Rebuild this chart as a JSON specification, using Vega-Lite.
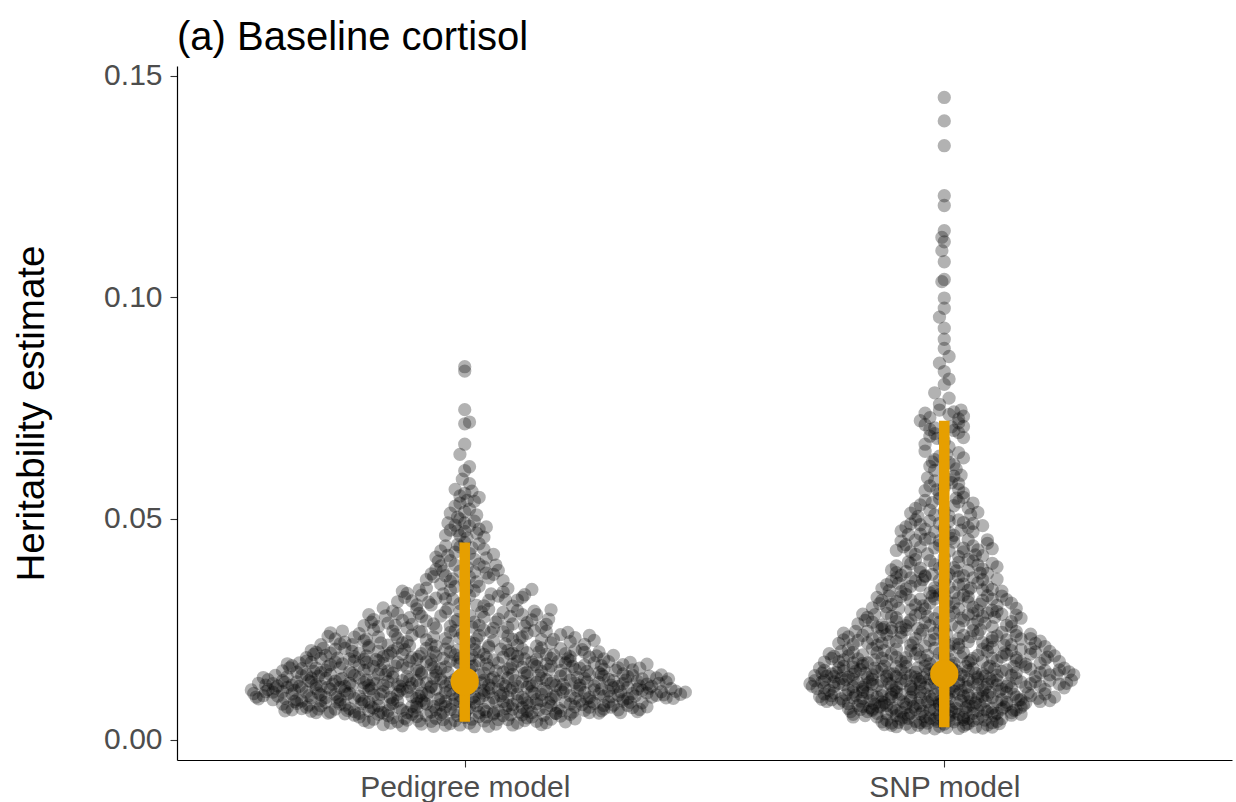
{
"$schema":"https://vega.github.io/schema/vega-lite/v6.json",
"width":1055,"height":694,
"autosize":{"type":"none"},
"padding":{"left":177,"top":66,"right":4,"bottom":42},
"background":"white",
"title":{"text":"(a) Baseline cortisol","anchor":"start","frame":"group","font":"Liberation Sans","fontSize":40,"fontWeight":"normal","color":"black","baseline":"alphabetic","offset":12,"dy":41},
"datasets":{
"pts":[
{"x":0.78,"y":0.0052},{"x":0.81,"y":0.0047},{"x":0.84,"y":0.0055},{"x":0.86,"y":0.0041},{"x":0.89,"y":0.0058},{"x":0.91,"y":0.0036},{"x":0.94,"y":0.0049},{"x":0.96,"y":0.0033},{"x":0.98,"y":0.0044},{"x":1.01,"y":0.0038},{"x":1.03,"y":0.0053},{"x":1.05,"y":0.0031},{"x":1.07,"y":0.0046},{"x":1.10,"y":0.0034},{"x":1.12,"y":0.0057},{"x":1.15,"y":0.0042},{"x":1.17,"y":0.0039},{"x":1.20,"y":0.0054},{"x":1.23,"y":0.0048},{"x":0.75,"y":0.0059},{"x":0.92,"y":0.0056},{"x":1.06,"y":0.0058},{"x":1.13,"y":0.0050},{"x":0.88,"y":0.0045},{"x":1.19,"y":0.0060},
{"x":0.62,"y":0.0081},{"x":0.64,"y":0.0068},{"x":0.66,"y":0.0088},{"x":0.67,"y":0.0074},{"x":0.69,"y":0.0062},{"x":0.71,"y":0.0085},{"x":0.73,"y":0.0070},{"x":0.75,"y":0.0079},{"x":0.77,"y":0.0064},{"x":0.79,"y":0.0087},{"x":0.81,"y":0.0072},{"x":0.83,"y":0.0061},{"x":0.85,"y":0.0083},{"x":0.87,"y":0.0067},{"x":0.89,"y":0.0076},{"x":0.91,"y":0.0089},{"x":0.93,"y":0.0063},{"x":0.95,"y":0.0080},{"x":0.97,"y":0.0069},{"x":0.99,"y":0.0086},{"x":1.01,"y":0.0073},{"x":1.03,"y":0.0062},{"x":1.05,"y":0.0084},{"x":1.07,"y":0.0066},{"x":1.09,"y":0.0078},{"x":1.11,"y":0.0088},{"x":1.13,"y":0.0065},{"x":1.15,"y":0.0082},{"x":1.17,"y":0.0071},{"x":1.19,"y":0.0060},{"x":1.21,"y":0.0086},{"x":1.23,"y":0.0075},{"x":1.25,"y":0.0067},{"x":1.27,"y":0.0083},{"x":1.29,"y":0.0070},{"x":1.31,"y":0.0079},{"x":1.33,"y":0.0088},{"x":1.35,"y":0.0073},{"x":1.37,"y":0.0084},{"x":0.70,"y":0.0077},{"x":0.80,"y":0.0066},{"x":0.90,"y":0.0082},{"x":1.00,"y":0.0061},{"x":1.10,"y":0.0070},{"x":1.26,"y":0.0062},
{"x":0.56,"y":0.0105},{"x":0.57,"y":0.0093},{"x":0.59,"y":0.0114},{"x":0.61,"y":0.0099},{"x":0.63,"y":0.0119},{"x":0.65,"y":0.0091},{"x":0.67,"y":0.0108},{"x":0.69,"y":0.0116},{"x":0.71,"y":0.0096},{"x":0.73,"y":0.0103},{"x":0.75,"y":0.0111},{"x":0.77,"y":0.0094},{"x":0.79,"y":0.0118},{"x":0.81,"y":0.0101},{"x":0.83,"y":0.0109},{"x":0.85,"y":0.0092},{"x":0.87,"y":0.0115},{"x":0.89,"y":0.0098},{"x":0.91,"y":0.0106},{"x":0.93,"y":0.0119},{"x":0.95,"y":0.0095},{"x":0.97,"y":0.0112},{"x":0.99,"y":0.0100},{"x":1.01,"y":0.0117},{"x":1.03,"y":0.0093},{"x":1.05,"y":0.0108},{"x":1.07,"y":0.0114},{"x":1.09,"y":0.0097},{"x":1.11,"y":0.0104},{"x":1.13,"y":0.0119},{"x":1.15,"y":0.0091},{"x":1.17,"y":0.0110},{"x":1.19,"y":0.0101},{"x":1.21,"y":0.0116},{"x":1.23,"y":0.0094},{"x":1.25,"y":0.0107},{"x":1.27,"y":0.0113},{"x":1.29,"y":0.0099},{"x":1.31,"y":0.0118},{"x":1.33,"y":0.0092},{"x":1.35,"y":0.0105},{"x":1.37,"y":0.0112},{"x":1.39,"y":0.0097},{"x":1.41,"y":0.0109},{"x":1.43,"y":0.0116},{"x":1.45,"y":0.0103},{"x":0.60,"y":0.0108},{"x":0.74,"y":0.0119},{"x":1.04,"y":0.0101},{"x":1.34,"y":0.0119},
{"x":0.57,"y":0.0128},{"x":0.59,"y":0.0136},{"x":0.61,"y":0.0122},{"x":0.63,"y":0.0143},{"x":0.65,"y":0.0131},{"x":0.67,"y":0.0148},{"x":0.69,"y":0.0125},{"x":0.71,"y":0.0139},{"x":0.73,"y":0.0133},{"x":0.75,"y":0.0121},{"x":0.77,"y":0.0146},{"x":0.79,"y":0.0129},{"x":0.81,"y":0.0137},{"x":0.83,"y":0.0124},{"x":0.85,"y":0.0142},{"x":0.87,"y":0.0134},{"x":0.89,"y":0.0127},{"x":0.91,"y":0.0149},{"x":0.93,"y":0.0121},{"x":0.95,"y":0.0138},{"x":0.97,"y":0.0130},{"x":0.99,"y":0.0145},{"x":1.02,"y":0.0123},{"x":1.04,"y":0.0135},{"x":1.06,"y":0.0141},{"x":1.08,"y":0.0126},{"x":1.10,"y":0.0148},{"x":1.12,"y":0.0132},{"x":1.14,"y":0.0122},{"x":1.16,"y":0.0139},{"x":1.18,"y":0.0128},{"x":1.20,"y":0.0144},{"x":1.22,"y":0.0135},{"x":1.24,"y":0.0124},{"x":1.26,"y":0.0147},{"x":1.28,"y":0.0130},{"x":1.30,"y":0.0137},{"x":1.32,"y":0.0121},{"x":1.34,"y":0.0143},{"x":1.36,"y":0.0133},{"x":1.38,"y":0.0126},{"x":1.40,"y":0.0140},{"x":1.42,"y":0.0131},{"x":0.68,"y":0.0140},{"x":1.33,"y":0.0149},
{"x":0.62,"y":0.0156},{"x":0.64,"y":0.0168},{"x":0.66,"y":0.0161},{"x":0.68,"y":0.0175},{"x":0.70,"y":0.0152},{"x":0.72,"y":0.0170},{"x":0.74,"y":0.0163},{"x":0.77,"y":0.0178},{"x":0.79,"y":0.0157},{"x":0.81,"y":0.0166},{"x":0.83,"y":0.0173},{"x":0.85,"y":0.0151},{"x":0.87,"y":0.0169},{"x":0.90,"y":0.0160},{"x":0.92,"y":0.0177},{"x":0.94,"y":0.0154},{"x":0.96,"y":0.0165},{"x":0.99,"y":0.0172},{"x":1.01,"y":0.0158},{"x":1.03,"y":0.0179},{"x":1.05,"y":0.0162},{"x":1.08,"y":0.0153},{"x":1.10,"y":0.0171},{"x":1.12,"y":0.0164},{"x":1.14,"y":0.0176},{"x":1.16,"y":0.0155},{"x":1.18,"y":0.0167},{"x":1.21,"y":0.0174},{"x":1.23,"y":0.0159},{"x":1.25,"y":0.0169},{"x":1.28,"y":0.0152},{"x":1.30,"y":0.0177},{"x":1.32,"y":0.0163},{"x":1.35,"y":0.0158},{"x":1.38,"y":0.0171},
{"x":0.67,"y":0.0186},{"x":0.69,"y":0.0198},{"x":0.71,"y":0.0191},{"x":0.73,"y":0.0205},{"x":0.76,"y":0.0183},{"x":0.78,"y":0.0196},{"x":0.80,"y":0.0209},{"x":0.83,"y":0.0188},{"x":0.85,"y":0.0201},{"x":0.87,"y":0.0194},{"x":0.90,"y":0.0182},{"x":0.92,"y":0.0207},{"x":0.94,"y":0.0190},{"x":0.97,"y":0.0199},{"x":0.99,"y":0.0185},{"x":1.02,"y":0.0204},{"x":1.04,"y":0.0193},{"x":1.06,"y":0.0181},{"x":1.09,"y":0.0202},{"x":1.11,"y":0.0189},{"x":1.13,"y":0.0197},{"x":1.16,"y":0.0208},{"x":1.18,"y":0.0184},{"x":1.21,"y":0.0195},{"x":1.23,"y":0.0203},{"x":1.26,"y":0.0187},{"x":1.28,"y":0.0199},{"x":1.31,"y":0.0191},
{"x":0.70,"y":0.0215},{"x":0.73,"y":0.0228},{"x":0.75,"y":0.0221},{"x":0.78,"y":0.0240},{"x":0.80,"y":0.0213},{"x":0.82,"y":0.0233},{"x":0.85,"y":0.0246},{"x":0.87,"y":0.0219},{"x":0.89,"y":0.0237},{"x":0.92,"y":0.0226},{"x":0.94,"y":0.0212},{"x":0.97,"y":0.0243},{"x":0.99,"y":0.0230},{"x":1.02,"y":0.0218},{"x":1.04,"y":0.0248},{"x":1.06,"y":0.0224},{"x":1.09,"y":0.0235},{"x":1.11,"y":0.0214},{"x":1.13,"y":0.0241},{"x":1.16,"y":0.0227},{"x":1.18,"y":0.0219},{"x":1.20,"y":0.0238},{"x":1.23,"y":0.0231},{"x":1.25,"y":0.0216},{"x":1.27,"y":0.0225},
{"x":0.79,"y":0.0258},{"x":0.81,"y":0.0272},{"x":0.84,"y":0.0264},{"x":0.86,"y":0.0285},{"x":0.88,"y":0.0253},{"x":0.90,"y":0.0296},{"x":0.92,"y":0.0269},{"x":0.95,"y":0.0280},{"x":0.97,"y":0.0257},{"x":0.99,"y":0.0291},{"x":1.02,"y":0.0266},{"x":1.04,"y":0.0277},{"x":1.06,"y":0.0252},{"x":1.08,"y":0.0288},{"x":1.10,"y":0.0262},{"x":1.12,"y":0.0283},{"x":1.14,"y":0.0271},{"x":1.16,"y":0.0255},{"x":1.18,"y":0.0294},{"x":0.83,"y":0.0298},
{"x":0.86,"y":0.0312},{"x":0.88,"y":0.0331},{"x":0.90,"y":0.0305},{"x":0.92,"y":0.0343},{"x":0.94,"y":0.0320},{"x":0.97,"y":0.0338},{"x":0.99,"y":0.0308},{"x":1.01,"y":0.0326},{"x":1.03,"y":0.0347},{"x":1.05,"y":0.0315},{"x":1.08,"y":0.0334},{"x":1.10,"y":0.0302},{"x":1.12,"y":0.0322},{"x":1.14,"y":0.0340},
{"x":0.92,"y":0.0362},{"x":0.94,"y":0.0385},{"x":0.96,"y":0.0371},{"x":0.98,"y":0.0395},{"x":1.00,"y":0.0356},{"x":1.02,"y":0.0379},{"x":1.04,"y":0.0391},{"x":1.05,"y":0.0366},{"x":1.07,"y":0.0383},{"x":0.95,"y":0.0352},
{"x":0.94,"y":0.0413},{"x":0.96,"y":0.0438},{"x":0.98,"y":0.0424},{"x":1.00,"y":0.0446},{"x":1.02,"y":0.0408},{"x":1.04,"y":0.0431},{"x":1.06,"y":0.0419},
{"x":0.96,"y":0.0462},{"x":0.98,"y":0.0485},{"x":1.00,"y":0.0471},{"x":1.02,"y":0.0494},{"x":1.04,"y":0.0458},{"x":0.99,"y":0.0499},
{"x":0.97,"y":0.0512},{"x":0.99,"y":0.0535},{"x":1.01,"y":0.0521},{"x":1.03,"y":0.0548},{"x":0.98,"y":0.0566},{"x":1.01,"y":0.0579},{"x":1.00,"y":0.0557},
{"x":1.00,"y":0.0608},{"x":1.01,"y":0.0617},{"x":0.99,"y":0.0645},{"x":1.00,"y":0.0668},{"x":1.00,"y":0.0714},{"x":1.01,"y":0.0718},{"x":1.00,"y":0.0746},{"x":1.00,"y":0.0833},{"x":1.00,"y":0.0843},
{"x":0.80,"y":0.0040},{"x":0.83,"y":0.0035},{"x":0.85,"y":0.0050},{"x":0.87,"y":0.0032},{"x":0.90,"y":0.0053},{"x":0.93,"y":0.0042},{"x":0.95,"y":0.0058},{"x":0.97,"y":0.0037},{"x":1.00,"y":0.0051},{"x":1.02,"y":0.0030},{"x":1.04,"y":0.0043},{"x":1.08,"y":0.0055},{"x":1.11,"y":0.0038},{"x":1.14,"y":0.0052},{"x":1.16,"y":0.0035},{"x":1.18,"y":0.0047},{"x":1.21,"y":0.0041},{"x":0.77,"y":0.0056},{"x":0.99,"y":0.0034},{"x":1.09,"y":0.0046},
{"x":0.63,"y":0.0074},{"x":0.65,"y":0.0083},{"x":0.68,"y":0.0065},{"x":0.70,"y":0.0089},{"x":0.72,"y":0.0063},{"x":0.74,"y":0.0081},{"x":0.76,"y":0.0071},{"x":0.78,"y":0.0060},{"x":0.80,"y":0.0085},{"x":0.82,"y":0.0077},{"x":0.84,"y":0.0066},{"x":0.86,"y":0.0088},{"x":0.88,"y":0.0062},{"x":0.90,"y":0.0074},{"x":0.92,"y":0.0081},{"x":0.94,"y":0.0068},{"x":0.96,"y":0.0087},{"x":0.98,"y":0.0064},{"x":1.00,"y":0.0079},{"x":1.02,"y":0.0085},{"x":1.04,"y":0.0069},{"x":1.06,"y":0.0061},{"x":1.08,"y":0.0087},{"x":1.10,"y":0.0080},{"x":1.12,"y":0.0073},{"x":1.14,"y":0.0062},{"x":1.16,"y":0.0089},{"x":1.18,"y":0.0077},{"x":1.20,"y":0.0066},{"x":1.22,"y":0.0081},{"x":1.24,"y":0.0088},{"x":1.26,"y":0.0074},{"x":1.28,"y":0.0061},{"x":1.30,"y":0.0086},{"x":1.32,"y":0.0068},{"x":1.34,"y":0.0078},{"x":1.36,"y":0.0064},{"x":1.38,"y":0.0075},{"x":0.66,"y":0.0071},{"x":0.96,"y":0.0075},{"x":1.13,"y":0.0084},{"x":1.29,"y":0.0078},
{"x":0.555,"y":0.0113},{"x":0.58,"y":0.0100},{"x":0.60,"y":0.0091},{"x":0.62,"y":0.0109},{"x":0.64,"y":0.0104},{"x":0.66,"y":0.0117},{"x":0.68,"y":0.0095},{"x":0.70,"y":0.0102},{"x":0.72,"y":0.0114},{"x":0.74,"y":0.0091},{"x":0.76,"y":0.0106},{"x":0.78,"y":0.0099},{"x":0.80,"y":0.0112},{"x":0.82,"y":0.0093},{"x":0.84,"y":0.0118},{"x":0.86,"y":0.0103},{"x":0.88,"y":0.0110},{"x":0.90,"y":0.0094},{"x":0.92,"y":0.0101},{"x":0.94,"y":0.0115},{"x":0.96,"y":0.0107},{"x":0.98,"y":0.0092},{"x":1.00,"y":0.0110},{"x":1.02,"y":0.0098},{"x":1.04,"y":0.0112},{"x":1.06,"y":0.0095},{"x":1.08,"y":0.0105},{"x":1.10,"y":0.0118},{"x":1.12,"y":0.0096},{"x":1.14,"y":0.0109},{"x":1.16,"y":0.0103},{"x":1.18,"y":0.0093},{"x":1.20,"y":0.0114},{"x":1.22,"y":0.0100},{"x":1.24,"y":0.0117},{"x":1.26,"y":0.0096},{"x":1.28,"y":0.0104},{"x":1.30,"y":0.0111},{"x":1.32,"y":0.0101},{"x":1.34,"y":0.0094},{"x":1.36,"y":0.0115},{"x":1.38,"y":0.0106},{"x":1.40,"y":0.0101},{"x":1.42,"y":0.0095},{"x":1.44,"y":0.0110},{"x":1.46,"y":0.0108},
{"x":0.58,"y":0.0141},{"x":0.60,"y":0.0127},{"x":0.62,"y":0.0134},{"x":0.64,"y":0.0124},{"x":0.66,"y":0.0145},{"x":0.68,"y":0.0131},{"x":0.70,"y":0.0122},{"x":0.72,"y":0.0148},{"x":0.74,"y":0.0136},{"x":0.76,"y":0.0128},{"x":0.78,"y":0.0140},{"x":0.80,"y":0.0123},{"x":0.82,"y":0.0149},{"x":0.84,"y":0.0132},{"x":0.86,"y":0.0125},{"x":0.88,"y":0.0143},{"x":0.90,"y":0.0134},{"x":0.92,"y":0.0129},{"x":0.94,"y":0.0146},{"x":0.96,"y":0.0122},{"x":0.98,"y":0.0137},{"x":1.00,"y":0.0128},{"x":1.03,"y":0.0147},{"x":1.05,"y":0.0124},{"x":1.07,"y":0.0133},{"x":1.09,"y":0.0140},{"x":1.11,"y":0.0121},{"x":1.13,"y":0.0145},{"x":1.15,"y":0.0130},{"x":1.17,"y":0.0136},{"x":1.19,"y":0.0123},{"x":1.21,"y":0.0148},{"x":1.23,"y":0.0129},{"x":1.25,"y":0.0139},{"x":1.27,"y":0.0122},{"x":1.29,"y":0.0144},{"x":1.31,"y":0.0134},{"x":1.33,"y":0.0127},{"x":1.35,"y":0.0146},{"x":1.37,"y":0.0138},{"x":1.39,"y":0.0121},{"x":1.41,"y":0.0147},
{"x":0.63,"y":0.0172},{"x":0.65,"y":0.0153},{"x":0.67,"y":0.0178},{"x":0.69,"y":0.0162},{"x":0.71,"y":0.0157},{"x":0.73,"y":0.0176},{"x":0.76,"y":0.0154},{"x":0.78,"y":0.0168},{"x":0.80,"y":0.0161},{"x":0.82,"y":0.0179},{"x":0.84,"y":0.0156},{"x":0.86,"y":0.0175},{"x":0.88,"y":0.0163},{"x":0.91,"y":0.0152},{"x":0.93,"y":0.0170},{"x":0.95,"y":0.0161},{"x":0.97,"y":0.0178},{"x":1.00,"y":0.0155},{"x":1.02,"y":0.0168},{"x":1.04,"y":0.0151},{"x":1.07,"y":0.0174},{"x":1.09,"y":0.0160},{"x":1.11,"y":0.0178},{"x":1.13,"y":0.0153},{"x":1.15,"y":0.0166},{"x":1.17,"y":0.0172},{"x":1.20,"y":0.0157},{"x":1.22,"y":0.0179},{"x":1.24,"y":0.0162},{"x":1.27,"y":0.0174},{"x":1.29,"y":0.0160},{"x":1.33,"y":0.0170},
{"x":0.68,"y":0.0202},{"x":0.70,"y":0.0184},{"x":0.72,"y":0.0196},{"x":0.75,"y":0.0207},{"x":0.77,"y":0.0188},{"x":0.79,"y":0.0182},{"x":0.82,"y":0.0200},{"x":0.84,"y":0.0191},{"x":0.86,"y":0.0208},{"x":0.89,"y":0.0186},{"x":0.91,"y":0.0195},{"x":0.93,"y":0.0181},{"x":0.96,"y":0.0205},{"x":0.98,"y":0.0192},{"x":1.01,"y":0.0183},{"x":1.03,"y":0.0199},{"x":1.05,"y":0.0209},{"x":1.08,"y":0.0187},{"x":1.10,"y":0.0196},{"x":1.12,"y":0.0205},{"x":1.15,"y":0.0182},{"x":1.17,"y":0.0193},{"x":1.20,"y":0.0206},{"x":1.22,"y":0.0188},{"x":1.25,"y":0.0198},{"x":1.29,"y":0.0183},
{"x":0.72,"y":0.0242},{"x":0.74,"y":0.0217},{"x":0.77,"y":0.0232},{"x":0.79,"y":0.0224},{"x":0.81,"y":0.0249},{"x":0.84,"y":0.0214},{"x":0.86,"y":0.0230},{"x":0.88,"y":0.0222},{"x":0.91,"y":0.0244},{"x":0.93,"y":0.0216},{"x":0.96,"y":0.0229},{"x":0.98,"y":0.0247},{"x":1.01,"y":0.0221},{"x":1.03,"y":0.0236},{"x":1.05,"y":0.0213},{"x":1.08,"y":0.0244},{"x":1.10,"y":0.0227},{"x":1.12,"y":0.0233},{"x":1.15,"y":0.0212},{"x":1.17,"y":0.0245},{"x":1.22,"y":0.0222},{"x":1.26,"y":0.0236},
{"x":0.80,"y":0.0283},{"x":0.82,"y":0.0256},{"x":0.85,"y":0.0291},{"x":0.87,"y":0.0270},{"x":0.89,"y":0.0261},{"x":0.91,"y":0.0279},{"x":0.94,"y":0.0253},{"x":0.96,"y":0.0289},{"x":0.98,"y":0.0268},{"x":1.01,"y":0.0281},{"x":1.03,"y":0.0259},{"x":1.05,"y":0.0295},{"x":1.07,"y":0.0273},{"x":1.09,"y":0.0254},{"x":1.11,"y":0.0292},{"x":1.13,"y":0.0265},{"x":1.15,"y":0.0283},{"x":1.17,"y":0.0261},
{"x":0.87,"y":0.0336},{"x":0.89,"y":0.0314},{"x":0.91,"y":0.0327},{"x":0.93,"y":0.0305},{"x":0.96,"y":0.0319},{"x":0.98,"y":0.0346},{"x":1.00,"y":0.0313},{"x":1.02,"y":0.0337},{"x":1.04,"y":0.0303},{"x":1.07,"y":0.0325},{"x":1.09,"y":0.0342},{"x":1.11,"y":0.0316},
{"x":0.93,"y":0.0375},{"x":0.95,"y":0.0393},{"x":0.97,"y":0.0358},{"x":0.99,"y":0.0381},{"x":1.01,"y":0.0368},{"x":1.03,"y":0.0397},{"x":1.06,"y":0.0374},{"x":1.08,"y":0.0360},
{"x":0.95,"y":0.0427},{"x":0.97,"y":0.0405},{"x":0.99,"y":0.0436},{"x":1.01,"y":0.0421},{"x":1.03,"y":0.0443},
{"x":0.97,"y":0.0474},{"x":0.99,"y":0.0462},{"x":1.01,"y":0.0483},{"x":1.03,"y":0.0476},{"x":1.00,"y":0.0490},
{"x":0.98,"y":0.0528},{"x":1.00,"y":0.0515},{"x":1.02,"y":0.0539},{"x":0.99,"y":0.0551},
{"x":0.79,"y":0.0044},{"x":0.82,"y":0.0058},{"x":0.845,"y":0.0038},{"x":0.875,"y":0.0049},{"x":0.905,"y":0.0043},{"x":0.935,"y":0.0031},{"x":0.955,"y":0.0046},{"x":0.985,"y":0.0055},{"x":1.015,"y":0.0047},{"x":1.045,"y":0.0052},{"x":1.065,"y":0.0036},{"x":1.095,"y":0.0057},{"x":1.125,"y":0.0044},{"x":1.165,"y":0.0056},{"x":1.22,"y":0.0058},
{"x":0.625,"y":0.0066},{"x":0.645,"y":0.0087},{"x":0.675,"y":0.0079},{"x":0.695,"y":0.0070},{"x":0.715,"y":0.0061},{"x":0.735,"y":0.0086},{"x":0.755,"y":0.0067},{"x":0.785,"y":0.0082},{"x":0.805,"y":0.0074},{"x":0.825,"y":0.0063},{"x":0.845,"y":0.0080},{"x":0.865,"y":0.0072},{"x":0.895,"y":0.0065},{"x":0.915,"y":0.0084},{"x":0.935,"y":0.0076},{"x":0.955,"y":0.0062},{"x":0.975,"y":0.0081},{"x":1.005,"y":0.0068},{"x":1.025,"y":0.0077},{"x":1.045,"y":0.0064},{"x":1.065,"y":0.0086},{"x":1.085,"y":0.0071},{"x":1.115,"y":0.0063},{"x":1.135,"y":0.0079},{"x":1.155,"y":0.0068},{"x":1.175,"y":0.0085},{"x":1.195,"y":0.0072},{"x":1.225,"y":0.0063},{"x":1.245,"y":0.0080},{"x":1.265,"y":0.0087},{"x":1.285,"y":0.0066},{"x":1.305,"y":0.0074},{"x":1.325,"y":0.0062},{"x":1.345,"y":0.0085},{"x":1.365,"y":0.0069},
{"x":0.565,"y":0.0097},{"x":0.585,"y":0.0109},{"x":0.605,"y":0.0117},{"x":0.625,"y":0.0094},{"x":0.645,"y":0.0112},{"x":0.675,"y":0.0100},{"x":0.695,"y":0.0106},{"x":0.715,"y":0.0119},{"x":0.735,"y":0.0097},{"x":0.755,"y":0.0104},{"x":0.785,"y":0.0091},{"x":0.805,"y":0.0116},{"x":0.825,"y":0.0103},{"x":0.845,"y":0.0096},{"x":0.865,"y":0.0111},{"x":0.885,"y":0.0119},{"x":0.905,"y":0.0099},{"x":0.925,"y":0.0108},{"x":0.945,"y":0.0092},{"x":0.975,"y":0.0103},{"x":0.995,"y":0.0114},{"x":1.015,"y":0.0094},{"x":1.035,"y":0.0106},{"x":1.055,"y":0.0117},{"x":1.075,"y":0.0100},{"x":1.095,"y":0.0112},{"x":1.125,"y":0.0091},{"x":1.145,"y":0.0105},{"x":1.165,"y":0.0116},{"x":1.185,"y":0.0098},{"x":1.205,"y":0.0108},{"x":1.235,"y":0.0111},{"x":1.255,"y":0.0093},{"x":1.285,"y":0.0115},{"x":1.305,"y":0.0098},{"x":1.325,"y":0.0109},{"x":1.355,"y":0.0099},{"x":1.385,"y":0.0117},{"x":1.415,"y":0.0102},{"x":1.435,"y":0.0094},
{"x":0.585,"y":0.0124},{"x":0.605,"y":0.0146},{"x":0.625,"y":0.0130},{"x":0.655,"y":0.0121},{"x":0.675,"y":0.0134},{"x":0.695,"y":0.0144},{"x":0.725,"y":0.0126},{"x":0.745,"y":0.0139},{"x":0.765,"y":0.0123},{"x":0.795,"y":0.0135},{"x":0.815,"y":0.0127},{"x":0.835,"y":0.0147},{"x":0.865,"y":0.0121},{"x":0.885,"y":0.0136},{"x":0.905,"y":0.0124},{"x":0.935,"y":0.0140},{"x":0.955,"y":0.0131},{"x":0.985,"y":0.0121},{"x":1.005,"y":0.0142},{"x":1.035,"y":0.0129},{"x":1.055,"y":0.0137},{"x":1.085,"y":0.0122},{"x":1.105,"y":0.0134},{"x":1.135,"y":0.0127},{"x":1.155,"y":0.0146},{"x":1.185,"y":0.0133},{"x":1.205,"y":0.0125},{"x":1.235,"y":0.0141},{"x":1.255,"y":0.0131},{"x":1.285,"y":0.0148},{"x":1.305,"y":0.0124},{"x":1.335,"y":0.0135},{"x":1.365,"y":0.0122},{"x":1.385,"y":0.0144},{"x":1.405,"y":0.0128},{"x":1.425,"y":0.0138},
{"x":0.635,"y":0.0163},{"x":0.655,"y":0.0174},{"x":0.685,"y":0.0155},{"x":0.715,"y":0.0166},{"x":0.745,"y":0.0172},{"x":0.765,"y":0.0151},{"x":0.795,"y":0.0175},{"x":0.825,"y":0.0159},{"x":0.855,"y":0.0167},{"x":0.885,"y":0.0178},{"x":0.905,"y":0.0156},{"x":0.935,"y":0.0163},{"x":0.965,"y":0.0152},{"x":0.985,"y":0.0176},{"x":1.015,"y":0.0166},{"x":1.045,"y":0.0171},{"x":1.065,"y":0.0156},{"x":1.095,"y":0.0163},{"x":1.125,"y":0.0151},{"x":1.145,"y":0.0170},{"x":1.175,"y":0.0159},{"x":1.195,"y":0.0177},{"x":1.225,"y":0.0166},{"x":1.255,"y":0.0155},{"x":1.285,"y":0.0168},{"x":1.315,"y":0.0157},{"x":1.345,"y":0.0175},{"x":1.365,"y":0.0162},
{"x":0.685,"y":0.0193},{"x":0.705,"y":0.0207},{"x":0.735,"y":0.0185},{"x":0.765,"y":0.0200},{"x":0.795,"y":0.0190},{"x":0.815,"y":0.0182},{"x":0.845,"y":0.0196},{"x":0.875,"y":0.0204},{"x":0.905,"y":0.0189},{"x":0.935,"y":0.0198},{"x":0.955,"y":0.0184},{"x":0.985,"y":0.0203},{"x":1.015,"y":0.0191},{"x":1.045,"y":0.0186},{"x":1.075,"y":0.0205},{"x":1.095,"y":0.0194},{"x":1.125,"y":0.0183},{"x":1.155,"y":0.0199},{"x":1.185,"y":0.0192},{"x":1.215,"y":0.0183},{"x":1.245,"y":0.0204},{"x":1.275,"y":0.0190},
{"x":0.715,"y":0.0234},{"x":0.745,"y":0.0246},{"x":0.765,"y":0.0215},{"x":0.795,"y":0.0228},{"x":0.825,"y":0.0219},{"x":0.855,"y":0.0238},{"x":0.885,"y":0.0213},{"x":0.905,"y":0.0246},{"x":0.935,"y":0.0233},{"x":0.965,"y":0.0219},{"x":0.995,"y":0.0240},{"x":1.025,"y":0.0228},{"x":1.055,"y":0.0243},{"x":1.085,"y":0.0217},{"x":1.115,"y":0.0230},{"x":1.145,"y":0.0247},{"x":1.185,"y":0.0227},{"x":1.215,"y":0.0243},
{"x":0.805,"y":0.0266},{"x":0.835,"y":0.0280},{"x":0.855,"y":0.0259},{"x":0.885,"y":0.0276},{"x":0.905,"y":0.0286},{"x":0.935,"y":0.0262},{"x":0.965,"y":0.0297},{"x":0.985,"y":0.0272},{"x":1.015,"y":0.0255},{"x":1.035,"y":0.0289},{"x":1.065,"y":0.0266},{"x":1.095,"y":0.0279},{"x":1.125,"y":0.0257},{"x":1.145,"y":0.0291},{"x":1.175,"y":0.0273},
{"x":0.875,"y":0.0322},{"x":0.905,"y":0.0339},{"x":0.925,"y":0.0311},{"x":0.955,"y":0.0330},{"x":0.975,"y":0.0318},{"x":1.005,"y":0.0342},{"x":1.025,"y":0.0304},{"x":1.055,"y":0.0330},{"x":1.085,"y":0.0317},{"x":1.125,"y":0.0328},
{"x":0.935,"y":0.0369},{"x":0.955,"y":0.0381},{"x":0.975,"y":0.0364},{"x":1.005,"y":0.0390},{"x":1.025,"y":0.0357},{"x":1.045,"y":0.0377},{"x":1.065,"y":0.0395},
{"x":0.945,"y":0.0404},{"x":0.965,"y":0.0417},{"x":0.985,"y":0.0441},{"x":1.015,"y":0.0434},{"x":1.045,"y":0.0411},
{"x":0.965,"y":0.0490},{"x":0.985,"y":0.0472},{"x":1.005,"y":0.0456},{"x":1.025,"y":0.0467},{"x":1.045,"y":0.0481},
{"x":0.985,"y":0.0503},{"x":1.005,"y":0.0541},{"x":1.025,"y":0.0508},{"x":0.995,"y":0.0589},{"x":1.015,"y":0.0562},
{"x":1.87,"y":0.0041},{"x":1.89,"y":0.0033},{"x":1.91,"y":0.0047},{"x":1.93,"y":0.0028},{"x":1.95,"y":0.0039},{"x":1.97,"y":0.0049},{"x":1.99,"y":0.0031},{"x":2.01,"y":0.0044},{"x":2.03,"y":0.0026},{"x":2.05,"y":0.0037},{"x":2.07,"y":0.0048},{"x":2.09,"y":0.0034},{"x":2.11,"y":0.0042},{"x":1.92,"y":0.0036},{"x":1.98,"y":0.0025},{"x":2.04,"y":0.0046},{"x":2.10,"y":0.0029},{"x":1.96,"y":0.0043},
{"x":1.80,"y":0.0071},{"x":1.81,"y":0.0058},{"x":1.83,"y":0.0076},{"x":1.84,"y":0.0064},{"x":1.86,"y":0.0052},{"x":1.87,"y":0.0079},{"x":1.89,"y":0.0067},{"x":1.90,"y":0.0055},{"x":1.92,"y":0.0073},{"x":1.93,"y":0.0061},{"x":1.95,"y":0.0078},{"x":1.96,"y":0.0053},{"x":1.98,"y":0.0069},{"x":1.99,"y":0.0057},{"x":2.01,"y":0.0075},{"x":2.02,"y":0.0063},{"x":2.04,"y":0.0051},{"x":2.05,"y":0.0077},{"x":2.07,"y":0.0066},{"x":2.08,"y":0.0054},{"x":2.10,"y":0.0072},{"x":2.11,"y":0.0060},{"x":2.13,"y":0.0079},{"x":2.14,"y":0.0056},{"x":2.15,"y":0.0068},{"x":2.16,"y":0.0074},{"x":1.85,"y":0.0070},{"x":2.00,"y":0.0080},
{"x":1.74,"y":0.0098},{"x":1.755,"y":0.0087},{"x":1.77,"y":0.0106},{"x":1.785,"y":0.0093},{"x":1.80,"y":0.0082},{"x":1.815,"y":0.0101},{"x":1.83,"y":0.0109},{"x":1.845,"y":0.0089},{"x":1.86,"y":0.0097},{"x":1.875,"y":0.0084},{"x":1.89,"y":0.0104},{"x":1.905,"y":0.0092},{"x":1.92,"y":0.0081},{"x":1.935,"y":0.0108},{"x":1.95,"y":0.0095},{"x":1.965,"y":0.0086},{"x":1.98,"y":0.0102},{"x":1.995,"y":0.0090},{"x":2.01,"y":0.0107},{"x":2.025,"y":0.0083},{"x":2.04,"y":0.0099},{"x":2.055,"y":0.0094},{"x":2.07,"y":0.0105},{"x":2.085,"y":0.0088},{"x":2.10,"y":0.0096},{"x":2.115,"y":0.0110},{"x":2.13,"y":0.0085},{"x":2.145,"y":0.0103},{"x":2.16,"y":0.0091},{"x":2.18,"y":0.0100},{"x":2.20,"y":0.0087},{"x":2.23,"y":0.0097},
{"x":1.72,"y":0.0127},{"x":1.735,"y":0.0116},{"x":1.75,"y":0.0135},{"x":1.77,"y":0.0121},{"x":1.785,"y":0.0139},{"x":1.80,"y":0.0113},{"x":1.82,"y":0.0130},{"x":1.835,"y":0.0124},{"x":1.85,"y":0.0137},{"x":1.87,"y":0.0111},{"x":1.885,"y":0.0128},{"x":1.90,"y":0.0119},{"x":1.92,"y":0.0134},{"x":1.935,"y":0.0114},{"x":1.95,"y":0.0126},{"x":1.97,"y":0.0138},{"x":1.985,"y":0.0117},{"x":2.00,"y":0.0131},{"x":2.02,"y":0.0122},{"x":2.035,"y":0.0112},{"x":2.05,"y":0.0136},{"x":2.07,"y":0.0125},{"x":2.085,"y":0.0118},{"x":2.10,"y":0.0133},{"x":2.12,"y":0.0115},{"x":2.135,"y":0.0129},{"x":2.15,"y":0.0139},{"x":2.17,"y":0.0120},{"x":2.19,"y":0.0132},{"x":2.21,"y":0.0114},{"x":2.24,"y":0.0126},{"x":2.265,"y":0.0135},
{"x":1.73,"y":0.0145},{"x":1.75,"y":0.0157},{"x":1.765,"y":0.0149},{"x":1.78,"y":0.0163},{"x":1.80,"y":0.0142},{"x":1.815,"y":0.0155},{"x":1.83,"y":0.0168},{"x":1.85,"y":0.0147},{"x":1.87,"y":0.0160},{"x":1.885,"y":0.0151},{"x":1.90,"y":0.0143},{"x":1.92,"y":0.0166},{"x":1.94,"y":0.0153},{"x":1.955,"y":0.0141},{"x":1.97,"y":0.0159},{"x":1.99,"y":0.0148},{"x":2.01,"y":0.0164},{"x":2.025,"y":0.0156},{"x":2.04,"y":0.0144},{"x":2.06,"y":0.0161},{"x":2.08,"y":0.0150},{"x":2.095,"y":0.0167},{"x":2.11,"y":0.0146},{"x":2.13,"y":0.0158},{"x":2.15,"y":0.0152},{"x":2.17,"y":0.0165},{"x":2.19,"y":0.0143},{"x":2.21,"y":0.0157},{"x":2.235,"y":0.0149},{"x":2.26,"y":0.0154},
{"x":1.75,"y":0.0176},{"x":1.77,"y":0.0189},{"x":1.79,"y":0.0181},{"x":1.81,"y":0.0198},{"x":1.83,"y":0.0173},{"x":1.85,"y":0.0206},{"x":1.87,"y":0.0185},{"x":1.89,"y":0.0194},{"x":1.91,"y":0.0178},{"x":1.93,"y":0.0202},{"x":1.95,"y":0.0187},{"x":1.97,"y":0.0172},{"x":1.99,"y":0.0196},{"x":2.01,"y":0.0183},{"x":2.03,"y":0.0208},{"x":2.05,"y":0.0175},{"x":2.07,"y":0.0191},{"x":2.09,"y":0.0200},{"x":2.11,"y":0.0179},{"x":2.13,"y":0.0193},{"x":2.15,"y":0.0186},{"x":2.17,"y":0.0171},{"x":2.19,"y":0.0199},{"x":2.21,"y":0.0182},{"x":2.23,"y":0.0190},{"x":2.24,"y":0.0177},{"x":1.80,"y":0.0205},{"x":2.16,"y":0.0204},
{"x":1.78,"y":0.0218},{"x":1.80,"y":0.0233},{"x":1.82,"y":0.0225},{"x":1.84,"y":0.0246},{"x":1.86,"y":0.0214},{"x":1.88,"y":0.0238},{"x":1.90,"y":0.0222},{"x":1.92,"y":0.0249},{"x":1.94,"y":0.0229},{"x":1.96,"y":0.0212},{"x":1.98,"y":0.0241},{"x":2.00,"y":0.0226},{"x":2.02,"y":0.0217},{"x":2.04,"y":0.0236},{"x":2.06,"y":0.0247},{"x":2.08,"y":0.0220},{"x":2.10,"y":0.0231},{"x":2.12,"y":0.0243},{"x":2.14,"y":0.0215},{"x":2.16,"y":0.0228},{"x":2.18,"y":0.0239},{"x":2.20,"y":0.0223},{"x":2.21,"y":0.0211},{"x":1.87,"y":0.0250},
{"x":1.82,"y":0.0262},{"x":1.84,"y":0.0277},{"x":1.86,"y":0.0255},{"x":1.88,"y":0.0286},{"x":1.90,"y":0.0268},{"x":1.92,"y":0.0258},{"x":1.94,"y":0.0282},{"x":1.96,"y":0.0265},{"x":1.98,"y":0.0274},{"x":2.00,"y":0.0252},{"x":2.02,"y":0.0288},{"x":2.04,"y":0.0270},{"x":2.06,"y":0.0261},{"x":2.08,"y":0.0279},{"x":2.10,"y":0.0256},{"x":2.12,"y":0.0284},{"x":2.14,"y":0.0267},{"x":2.16,"y":0.0275},{"x":1.89,"y":0.0253},{"x":2.11,"y":0.0290},
{"x":1.85,"y":0.0298},{"x":1.87,"y":0.0315},{"x":1.89,"y":0.0306},{"x":1.91,"y":0.0324},{"x":1.93,"y":0.0294},{"x":1.95,"y":0.0318},{"x":1.97,"y":0.0309},{"x":1.99,"y":0.0328},{"x":2.01,"y":0.0301},{"x":2.03,"y":0.0320},{"x":2.05,"y":0.0312},{"x":2.07,"y":0.0292},{"x":2.09,"y":0.0326},{"x":2.11,"y":0.0304},{"x":2.13,"y":0.0317},{"x":2.15,"y":0.0297},{"x":2.00,"y":0.0330},
{"x":1.87,"y":0.0342},{"x":1.89,"y":0.0358},{"x":1.91,"y":0.0335},{"x":1.93,"y":0.0366},{"x":1.95,"y":0.0349},{"x":1.97,"y":0.0332},{"x":1.99,"y":0.0361},{"x":2.01,"y":0.0345},{"x":2.03,"y":0.0368},{"x":2.05,"y":0.0338},{"x":2.07,"y":0.0355},{"x":2.09,"y":0.0347},{"x":2.11,"y":0.0363},{"x":2.12,"y":0.0336},
{"x":1.89,"y":0.0384},{"x":1.91,"y":0.0372},{"x":1.93,"y":0.0398},{"x":1.95,"y":0.0379},{"x":1.97,"y":0.0405},{"x":1.99,"y":0.0388},{"x":2.01,"y":0.0374},{"x":2.03,"y":0.0401},{"x":2.05,"y":0.0383},{"x":2.07,"y":0.0395},{"x":2.09,"y":0.0376},{"x":2.11,"y":0.0391},
{"x":1.90,"y":0.0428},{"x":1.92,"y":0.0441},{"x":1.94,"y":0.0419},{"x":1.96,"y":0.0453},{"x":1.98,"y":0.0434},{"x":2.00,"y":0.0412},{"x":2.02,"y":0.0447},{"x":2.04,"y":0.0425},{"x":2.06,"y":0.0438},{"x":2.08,"y":0.0416},{"x":2.10,"y":0.0432},{"x":1.97,"y":0.0456},
{"x":1.91,"y":0.0472},{"x":1.93,"y":0.0488},{"x":1.95,"y":0.0465},{"x":1.97,"y":0.0495},{"x":2.00,"y":0.0478},{"x":2.02,"y":0.0462},{"x":2.04,"y":0.0491},{"x":2.06,"y":0.0470},{"x":2.08,"y":0.0484},
{"x":1.93,"y":0.0512},{"x":1.95,"y":0.0531},{"x":1.97,"y":0.0519},{"x":1.99,"y":0.0545},{"x":2.01,"y":0.0506},{"x":2.03,"y":0.0538},{"x":2.05,"y":0.0524},{"x":2.07,"y":0.0514},
{"x":1.96,"y":0.0563},{"x":1.98,"y":0.0585},{"x":2.00,"y":0.0571},{"x":2.02,"y":0.0596},{"x":2.04,"y":0.0558},{"x":2.03,"y":0.0579},
{"x":1.97,"y":0.0618},{"x":1.99,"y":0.0641},{"x":2.01,"y":0.0627},{"x":2.03,"y":0.0649},{"x":1.98,"y":0.0633},
{"x":1.96,"y":0.0668},{"x":1.98,"y":0.0692},{"x":2.00,"y":0.0675},{"x":2.02,"y":0.0699},{"x":2.04,"y":0.0683},{"x":1.97,"y":0.0701},
{"x":1.96,"y":0.0712},{"x":1.97,"y":0.0728},{"x":1.98,"y":0.0705},{"x":2.03,"y":0.0716},{"x":2.04,"y":0.0731},{"x":2.02,"y":0.0741},{"x":1.99,"y":0.0745},{"x":2.01,"y":0.0735},
{"x":1.99,"y":0.0758},{"x":2.01,"y":0.0772},{"x":1.98,"y":0.0784},{"x":2.00,"y":0.0803},{"x":2.01,"y":0.0815},
{"x":2.00,"y":0.0832},{"x":1.99,"y":0.0851},{"x":2.01,"y":0.0866},{"x":2.00,"y":0.0884},
{"x":2.00,"y":0.0905},{"x":2.00,"y":0.0930},{"x":1.99,"y":0.0955},{"x":2.00,"y":0.0975},{"x":2.00,"y":0.0998},{"x":1.995,"y":0.1035},{"x":2.00,"y":0.1040},{"x":2.00,"y":0.1080},{"x":1.995,"y":0.1105},{"x":2.00,"y":0.1125},{"x":1.995,"y":0.1135},{"x":2.00,"y":0.1150},{"x":2.00,"y":0.1207},{"x":2.00,"y":0.1229},{"x":2.00,"y":0.1342},{"x":2.00,"y":0.1398},{"x":2.00,"y":0.1451},
{"x":1.88,"y":0.0045},{"x":1.90,"y":0.0030},{"x":1.94,"y":0.0042},{"x":1.96,"y":0.0027},{"x":1.98,"y":0.0047},{"x":2.00,"y":0.0036},{"x":2.02,"y":0.0041},{"x":2.04,"y":0.0031},{"x":2.06,"y":0.0044},{"x":2.08,"y":0.0027},{"x":2.10,"y":0.0039},{"x":2.12,"y":0.0048},{"x":1.89,"y":0.0038},{"x":2.05,"y":0.0049},
{"x":1.805,"y":0.0064},{"x":1.82,"y":0.0078},{"x":1.835,"y":0.0055},{"x":1.85,"y":0.0067},{"x":1.865,"y":0.0075},{"x":1.88,"y":0.0059},{"x":1.895,"y":0.0072},{"x":1.91,"y":0.0063},{"x":1.925,"y":0.0057},{"x":1.94,"y":0.0070},{"x":1.955,"y":0.0065},{"x":1.97,"y":0.0077},{"x":1.985,"y":0.0052},{"x":2.00,"y":0.0062},{"x":2.015,"y":0.0068},{"x":2.03,"y":0.0058},{"x":2.045,"y":0.0073},{"x":2.06,"y":0.0060},{"x":2.075,"y":0.0079},{"x":2.09,"y":0.0064},{"x":2.105,"y":0.0056},{"x":2.12,"y":0.0070},{"x":2.14,"y":0.0062},{"x":2.16,"y":0.0058},
{"x":1.75,"y":0.0104},{"x":1.765,"y":0.0091},{"x":1.78,"y":0.0083},{"x":1.795,"y":0.0102},{"x":1.81,"y":0.0095},{"x":1.825,"y":0.0088},{"x":1.84,"y":0.0106},{"x":1.855,"y":0.0081},{"x":1.87,"y":0.0100},{"x":1.885,"y":0.0093},{"x":1.90,"y":0.0108},{"x":1.915,"y":0.0086},{"x":1.93,"y":0.0097},{"x":1.945,"y":0.0083},{"x":1.96,"y":0.0104},{"x":1.975,"y":0.0092},{"x":1.99,"y":0.0087},{"x":2.005,"y":0.0099},{"x":2.02,"y":0.0110},{"x":2.035,"y":0.0089},{"x":2.05,"y":0.0102},{"x":2.065,"y":0.0084},{"x":2.08,"y":0.0098},{"x":2.095,"y":0.0108},{"x":2.12,"y":0.0091},{"x":2.15,"y":0.0097},{"x":2.17,"y":0.0084},{"x":2.21,"y":0.0104},
{"x":1.725,"y":0.0121},{"x":1.745,"y":0.0131},{"x":1.76,"y":0.0112},{"x":1.78,"y":0.0128},{"x":1.795,"y":0.0136},{"x":1.81,"y":0.0120},{"x":1.83,"y":0.0114},{"x":1.845,"y":0.0131},{"x":1.86,"y":0.0123},{"x":1.88,"y":0.0138},{"x":1.895,"y":0.0113},{"x":1.91,"y":0.0127},{"x":1.93,"y":0.0121},{"x":1.945,"y":0.0136},{"x":1.96,"y":0.0118},{"x":1.98,"y":0.0129},{"x":1.995,"y":0.0112},{"x":2.01,"y":0.0137},{"x":2.03,"y":0.0127},{"x":2.045,"y":0.0119},{"x":2.06,"y":0.0131},{"x":2.08,"y":0.0113},{"x":2.095,"y":0.0139},{"x":2.11,"y":0.0124},{"x":2.14,"y":0.0117},{"x":2.16,"y":0.0131},{"x":2.20,"y":0.0122},{"x":2.25,"y":0.0118},
{"x":1.74,"y":0.0162},{"x":1.755,"y":0.0144},{"x":1.775,"y":0.0152},{"x":1.79,"y":0.0166},{"x":1.81,"y":0.0148},{"x":1.825,"y":0.0159},{"x":1.84,"y":0.0141},{"x":1.86,"y":0.0155},{"x":1.875,"y":0.0167},{"x":1.895,"y":0.0149},{"x":1.91,"y":0.0158},{"x":1.93,"y":0.0145},{"x":1.945,"y":0.0163},{"x":1.965,"y":0.0150},{"x":1.98,"y":0.0141},{"x":2.00,"y":0.0156},{"x":2.015,"y":0.0169},{"x":2.035,"y":0.0148},{"x":2.05,"y":0.0157},{"x":2.07,"y":0.0142},{"x":2.09,"y":0.0163},{"x":2.12,"y":0.0155},{"x":2.14,"y":0.0146},{"x":2.18,"y":0.0160},{"x":2.22,"y":0.0147},{"x":2.25,"y":0.0162},
{"x":1.76,"y":0.0195},{"x":1.78,"y":0.0177},{"x":1.80,"y":0.0190},{"x":1.82,"y":0.0183},{"x":1.84,"y":0.0174},{"x":1.86,"y":0.0197},{"x":1.88,"y":0.0179},{"x":1.90,"y":0.0205},{"x":1.92,"y":0.0186},{"x":1.94,"y":0.0195},{"x":1.96,"y":0.0180},{"x":1.98,"y":0.0207},{"x":2.00,"y":0.0190},{"x":2.02,"y":0.0173},{"x":2.04,"y":0.0197},{"x":2.06,"y":0.0184},{"x":2.08,"y":0.0178},{"x":2.10,"y":0.0209},{"x":2.12,"y":0.0188},{"x":2.14,"y":0.0202},{"x":2.16,"y":0.0176},{"x":2.18,"y":0.0194},{"x":2.20,"y":0.0173},{"x":2.22,"y":0.0200},
{"x":1.79,"y":0.0241},{"x":1.81,"y":0.0216},{"x":1.83,"y":0.0236},{"x":1.85,"y":0.0228},{"x":1.87,"y":0.0219},{"x":1.89,"y":0.0246},{"x":1.91,"y":0.0232},{"x":1.93,"y":0.0214},{"x":1.95,"y":0.0239},{"x":1.97,"y":0.0225},{"x":1.99,"y":0.0248},{"x":2.01,"y":0.0213},{"x":2.03,"y":0.0229},{"x":2.05,"y":0.0222},{"x":2.07,"y":0.0240},{"x":2.09,"y":0.0215},{"x":2.11,"y":0.0235},{"x":2.13,"y":0.0226},{"x":2.15,"y":0.0245},{"x":2.19,"y":0.0218},
{"x":1.83,"y":0.0284},{"x":1.85,"y":0.0266},{"x":1.87,"y":0.0260},{"x":1.89,"y":0.0279},{"x":1.91,"y":0.0254},{"x":1.93,"y":0.0271},{"x":1.95,"y":0.0287},{"x":1.97,"y":0.0258},{"x":1.99,"y":0.0266},{"x":2.01,"y":0.0280},{"x":2.03,"y":0.0255},{"x":2.05,"y":0.0283},{"x":2.07,"y":0.0269},{"x":2.09,"y":0.0287},{"x":2.13,"y":0.0259},{"x":2.15,"y":0.0282},
{"x":1.86,"y":0.0322},{"x":1.88,"y":0.0301},{"x":1.90,"y":0.0313},{"x":1.92,"y":0.0329},{"x":1.94,"y":0.0305},{"x":1.96,"y":0.0296},{"x":1.98,"y":0.0319},{"x":2.02,"y":0.0309},{"x":2.04,"y":0.0327},{"x":2.06,"y":0.0300},{"x":2.08,"y":0.0315},{"x":2.10,"y":0.0293},{"x":2.12,"y":0.0325},
{"x":1.88,"y":0.0351},{"x":1.90,"y":0.0366},{"x":1.92,"y":0.0341},{"x":1.94,"y":0.0359},{"x":1.96,"y":0.0369},{"x":1.98,"y":0.0344},{"x":2.00,"y":0.0356},{"x":2.02,"y":0.0333},{"x":2.04,"y":0.0352},{"x":2.06,"y":0.0366},{"x":2.08,"y":0.0339},
{"x":1.90,"y":0.0393},{"x":1.92,"y":0.0380},{"x":1.94,"y":0.0407},{"x":1.96,"y":0.0371},{"x":1.98,"y":0.0396},{"x":2.02,"y":0.0389},{"x":2.04,"y":0.0371},{"x":2.06,"y":0.0404},{"x":2.08,"y":0.0386},
{"x":1.91,"y":0.0449},{"x":1.93,"y":0.0425},{"x":1.95,"y":0.0436},{"x":1.99,"y":0.0450},{"x":2.01,"y":0.0427},{"x":2.03,"y":0.0414},{"x":2.05,"y":0.0452},{"x":2.07,"y":0.0429},{"x":2.09,"y":0.0444},
{"x":1.92,"y":0.0481},{"x":1.94,"y":0.0497},{"x":1.96,"y":0.0476},{"x":1.99,"y":0.0489},{"x":2.01,"y":0.0468},{"x":2.03,"y":0.0497},{"x":2.05,"y":0.0480},
{"x":1.94,"y":0.0523},{"x":1.96,"y":0.0541},{"x":1.98,"y":0.0508},{"x":2.02,"y":0.0529},{"x":2.04,"y":0.0548},{"x":2.06,"y":0.0535},
{"x":1.97,"y":0.0574},{"x":1.99,"y":0.0556},{"x":2.01,"y":0.0588},{"x":2.03,"y":0.0566},
{"x":1.96,"y":0.0652},{"x":1.98,"y":0.0609},{"x":2.02,"y":0.0622},{"x":2.04,"y":0.0637},
{"x":1.97,"y":0.0686},{"x":2.01,"y":0.0662},{"x":2.03,"y":0.0694},
{"x":1.95,"y":0.0721},{"x":1.96,"y":0.0738},{"x":2.04,"y":0.0708},{"x":2.03,"y":0.0725},
{"x":1.875,"y":0.0035},{"x":1.905,"y":0.0040},{"x":1.925,"y":0.0049},{"x":1.945,"y":0.0033},{"x":1.965,"y":0.0038},{"x":1.985,"y":0.0042},{"x":2.005,"y":0.0028},{"x":2.025,"y":0.0047},{"x":2.045,"y":0.0035},{"x":2.065,"y":0.0029},{"x":2.085,"y":0.0045},{"x":2.115,"y":0.0037},
{"x":1.81,"y":0.0052},{"x":1.825,"y":0.0069},{"x":1.845,"y":0.0073},{"x":1.86,"y":0.0060},{"x":1.88,"y":0.0078},{"x":1.90,"y":0.0066},{"x":1.915,"y":0.0051},{"x":1.935,"y":0.0075},{"x":1.95,"y":0.0059},{"x":1.97,"y":0.0068},{"x":1.99,"y":0.0079},{"x":2.01,"y":0.0054},{"x":2.025,"y":0.0071},{"x":2.045,"y":0.0063},{"x":2.06,"y":0.0076},{"x":2.085,"y":0.0069},{"x":2.10,"y":0.0061},{"x":2.125,"y":0.0074},{"x":2.145,"y":0.0067},{"x":2.165,"y":0.0079},
{"x":1.745,"y":0.0092},{"x":1.765,"y":0.0100},{"x":1.79,"y":0.0088},{"x":1.81,"y":0.0108},{"x":1.83,"y":0.0094},{"x":1.85,"y":0.0101},{"x":1.87,"y":0.0086},{"x":1.89,"y":0.0097},{"x":1.91,"y":0.0103},{"x":1.93,"y":0.0090},{"x":1.95,"y":0.0109},{"x":1.97,"y":0.0098},{"x":1.99,"y":0.0081},{"x":2.01,"y":0.0093},{"x":2.03,"y":0.0104},{"x":2.05,"y":0.0086},{"x":2.07,"y":0.0095},{"x":2.09,"y":0.0101},{"x":2.11,"y":0.0086},{"x":2.13,"y":0.0107},{"x":2.155,"y":0.0090},{"x":2.175,"y":0.0106},{"x":2.195,"y":0.0094},{"x":2.22,"y":0.0089},
{"x":1.73,"y":0.0134},{"x":1.75,"y":0.0118},{"x":1.77,"y":0.0131},{"x":1.79,"y":0.0125},{"x":1.81,"y":0.0137},{"x":1.83,"y":0.0119},{"x":1.85,"y":0.0126},{"x":1.87,"y":0.0133},{"x":1.89,"y":0.0122},{"x":1.91,"y":0.0139},{"x":1.93,"y":0.0116},{"x":1.95,"y":0.0132},{"x":1.97,"y":0.0124},{"x":1.99,"y":0.0137},{"x":2.01,"y":0.0115},{"x":2.03,"y":0.0133},{"x":2.05,"y":0.0121},{"x":2.07,"y":0.0138},{"x":2.09,"y":0.0126},{"x":2.11,"y":0.0135},{"x":2.13,"y":0.0121},{"x":2.18,"y":0.0127},{"x":2.22,"y":0.0134},{"x":2.255,"y":0.0128},
{"x":1.745,"y":0.0151},{"x":1.77,"y":0.0143},{"x":1.79,"y":0.0156},{"x":1.81,"y":0.0164},{"x":1.835,"y":0.0151},{"x":1.855,"y":0.0162},{"x":1.88,"y":0.0144},{"x":1.90,"y":0.0166},{"x":1.92,"y":0.0150},{"x":1.94,"y":0.0142},{"x":1.96,"y":0.0167},{"x":1.98,"y":0.0155},{"x":2.00,"y":0.0145},{"x":2.02,"y":0.0160},{"x":2.045,"y":0.0166},{"x":2.065,"y":0.0151},{"x":2.085,"y":0.0144},{"x":2.105,"y":0.0160},{"x":2.145,"y":0.0166},{"x":2.20,"y":0.0152},{"x":2.24,"y":0.0158},{"x":2.27,"y":0.0147},
{"x":1.765,"y":0.0184},{"x":1.785,"y":0.0200},{"x":1.81,"y":0.0174},{"x":1.83,"y":0.0192},{"x":1.855,"y":0.0181},{"x":1.875,"y":0.0202},{"x":1.90,"y":0.0187},{"x":1.92,"y":0.0176},{"x":1.945,"y":0.0203},{"x":1.965,"y":0.0191},{"x":1.985,"y":0.0179},{"x":2.01,"y":0.0201},{"x":2.035,"y":0.0188},{"x":2.055,"y":0.0179},{"x":2.08,"y":0.0205},{"x":2.10,"y":0.0185},{"x":2.125,"y":0.0197},{"x":2.15,"y":0.0180},{"x":2.18,"y":0.0207},{"x":2.215,"y":0.0187},
{"x":1.79,"y":0.0226},{"x":1.815,"y":0.0245},{"x":1.84,"y":0.0219},{"x":1.865,"y":0.0234},{"x":1.885,"y":0.0222},{"x":1.91,"y":0.0243},{"x":1.935,"y":0.0219},{"x":1.955,"y":0.0248},{"x":1.98,"y":0.0227},{"x":2.005,"y":0.0239},{"x":2.03,"y":0.0216},{"x":2.055,"y":0.0233},{"x":2.075,"y":0.0249},{"x":2.10,"y":0.0224},{"x":2.125,"y":0.0214},{"x":2.15,"y":0.0236},{"x":2.18,"y":0.0229},
{"x":1.835,"y":0.0270},{"x":1.855,"y":0.0283},{"x":1.875,"y":0.0254},{"x":1.90,"y":0.0276},{"x":1.925,"y":0.0265},{"x":1.945,"y":0.0252},{"x":1.965,"y":0.0279},{"x":1.99,"y":0.0288},{"x":2.015,"y":0.0260},{"x":2.035,"y":0.0275},{"x":2.06,"y":0.0285},{"x":2.085,"y":0.0264},{"x":2.105,"y":0.0277},{"x":2.14,"y":0.0256},
{"x":1.865,"y":0.0308},{"x":1.885,"y":0.0325},{"x":1.905,"y":0.0297},{"x":1.93,"y":0.0316},{"x":1.955,"y":0.0303},{"x":1.975,"y":0.0325},{"x":2.005,"y":0.0314},{"x":2.03,"y":0.0296},{"x":2.05,"y":0.0323},{"x":2.075,"y":0.0307},{"x":2.10,"y":0.0318},{"x":2.14,"y":0.0309},
{"x":1.885,"y":0.0337},{"x":1.905,"y":0.0354},{"x":1.93,"y":0.0347},{"x":1.955,"y":0.0362},{"x":1.98,"y":0.0336},{"x":2.005,"y":0.0367},{"x":2.03,"y":0.0350},{"x":2.055,"y":0.0343},{"x":2.08,"y":0.0362},{"x":2.10,"y":0.0340},
{"x":1.90,"y":0.0378},{"x":1.925,"y":0.0402},{"x":1.95,"y":0.0388},{"x":1.975,"y":0.0374},{"x":2.00,"y":0.0398},{"x":2.025,"y":0.0382},{"x":2.05,"y":0.0408},{"x":2.075,"y":0.0377},{"x":2.10,"y":0.0399},
{"x":1.915,"y":0.0436},{"x":1.94,"y":0.0451},{"x":1.965,"y":0.0420},{"x":1.99,"y":0.0440},{"x":2.015,"y":0.0455},{"x":2.04,"y":0.0433},{"x":2.065,"y":0.0418},{"x":2.09,"y":0.0452},
{"x":1.925,"y":0.0464},{"x":1.95,"y":0.0486},{"x":1.98,"y":0.0470},{"x":2.01,"y":0.0494},{"x":2.035,"y":0.0474},{"x":2.06,"y":0.0489},
{"x":1.945,"y":0.0505},{"x":1.975,"y":0.0536},{"x":2.00,"y":0.0517},{"x":2.025,"y":0.0546},{"x":2.055,"y":0.0509},
{"x":1.965,"y":0.0592},{"x":1.985,"y":0.0565},{"x":2.015,"y":0.0581},{"x":2.035,"y":0.0598},
{"x":1.975,"y":0.0628},{"x":2.005,"y":0.0645},{"x":2.025,"y":0.0612},{"x":1.985,"y":0.0681},{"x":2.015,"y":0.0707},{"x":2.035,"y":0.0745}
],
"summ":[
{"x":1,"lo":0.0041,"hi":0.0446,"mid":0.0132},
{"x":2,"lo":0.0029,"hi":0.0721,"mid":0.0149}
]
},
"layer":[
{"data":{"name":"pts"},
 "mark":{"type":"circle","size":177,"color":"black","opacity":0.3,"strokeWidth":0},
 "encoding":{
  "x":{"field":"x","type":"quantitative","title":null,"scale":{"domain":[0.4,2.6],"nice":false,"zero":false},
       "axis":{"values":[1,2],"labelExpr":"datum.value == 1 ? 'Pedigree model' : 'SNP model'","labelPadding":5,"labelFlush":false,"labelOverlap":false,"labelLimit":500}},
  "y":{"field":"y","type":"quantitative","title":"Heritability estimate","scale":{"domain":[-0.00452,0.1522],"nice":false,"zero":false},
       "axis":{"values":[0,0.05,0.1,0.15],"format":".2f","labelPadding":8,"titleX":-134,"titleBaseline":"alphabetic","titleAngle":-90}}
 }},
{"data":{"name":"summ"},
 "mark":{"type":"rule","color":"#E69F00","strokeWidth":10.5},
 "encoding":{
  "x":{"field":"x","type":"quantitative","title":null},
  "y":{"field":"lo","type":"quantitative","title":"Heritability estimate"},
  "y2":{"field":"hi"}
 }},
{"data":{"name":"summ"},
 "mark":{"type":"circle","size":800,"color":"#E69F00","opacity":1},
 "encoding":{
  "x":{"field":"x","type":"quantitative","title":null},
  "y":{"field":"mid","type":"quantitative","title":"Heritability estimate"}
 }}
],
"config":{
 "view":{"stroke":null},
 "font":"Liberation Sans",
 "axis":{"grid":false,"domainColor":"black","domainWidth":1.2,"tickColor":"#333333","tickSize":7,"tickWidth":1.1,
   "labelFont":"Liberation Sans","labelFontSize":30,"labelColor":"#4d4d4d",
   "titleFont":"Liberation Sans","titleFontSize":38.5,"titleFontWeight":"normal","titleColor":"black"}
}
}
